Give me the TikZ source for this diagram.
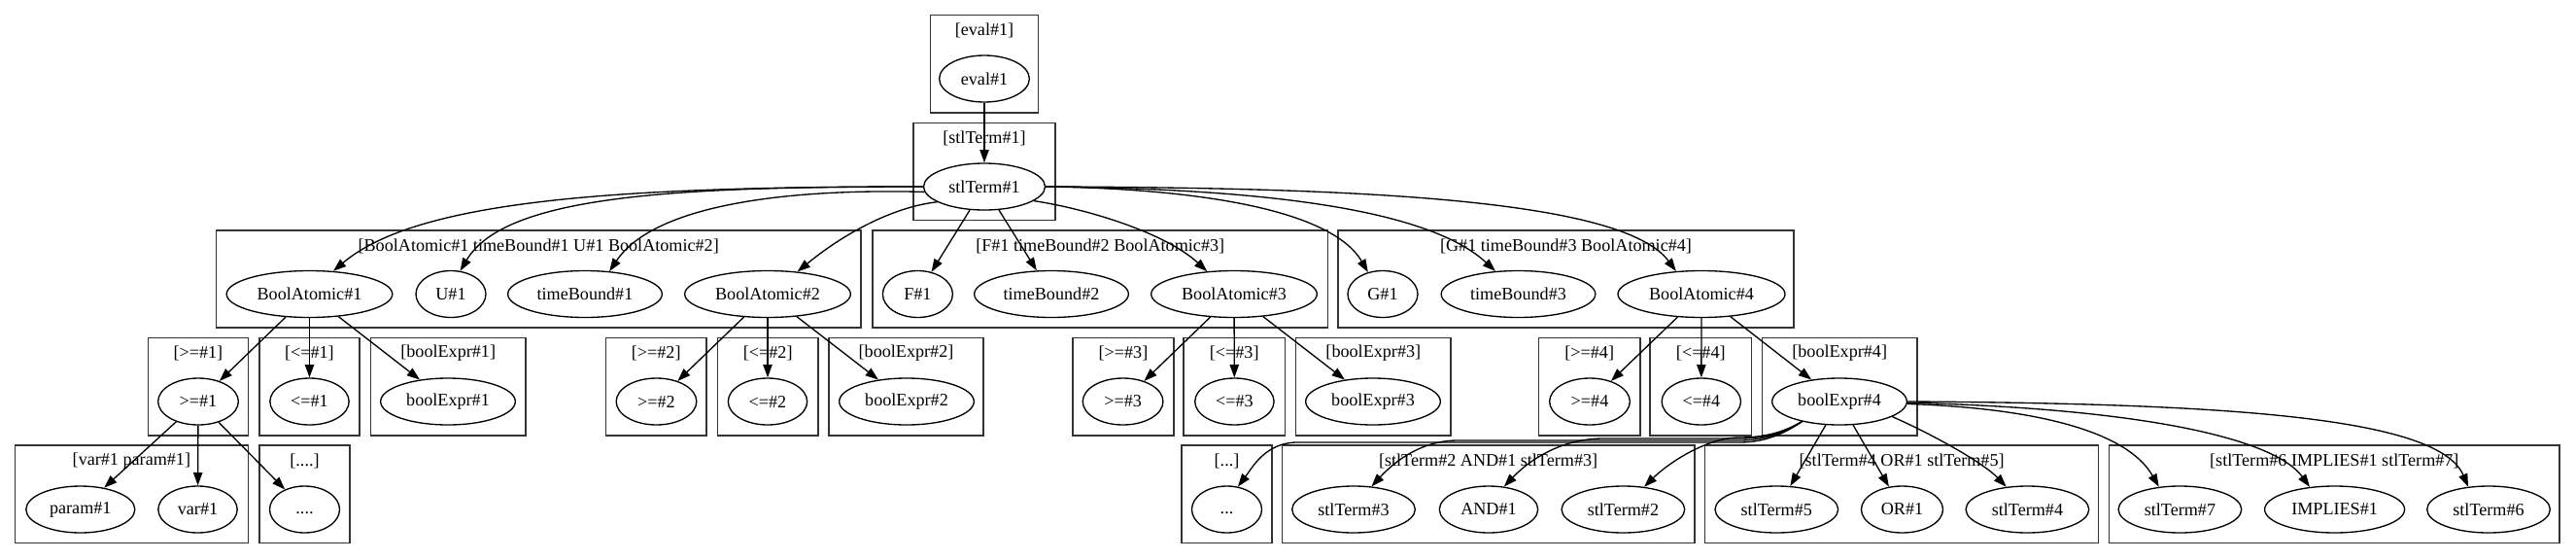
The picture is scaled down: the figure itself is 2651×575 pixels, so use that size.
\documentclass[tikz,border=0pt]{standalone}
\usepackage{fontspec}
\setmainfont{Liberation Serif}
\usetikzlibrary{arrows.meta,shapes.geometric}
\begin{document}
\begin{tikzpicture}[x=0.75pt,y=-0.75pt,
  nd/.style={draw, ellipse, line width=1pt, inner sep=0pt, minimum height=36pt, minimum width=#1, font=\fontsize{13.6}{16}\selectfont},
  box/.style={draw=black!80, line width=1.15pt},
  lbl/.style={inner sep=0pt, font=\fontsize{13.6}{16}\selectfont},
  conn/.style={line width=1pt, -{Triangle[length=10pt,width=7pt]}},
]
\useasboundingbox (0,0) rectangle (2651,575);

% ---------- cluster boxes ----------
\draw[box] (957.5,15.7) rectangle (1068.4,116);
\draw[box] (940,126.7) rectangle (1086,226.7);
\draw[box] (222.4,237) rectangle (886,337);
\draw[box] (897.8,237) rectangle (1366.6,337);
\draw[box] (1376.8,237) rectangle (1846.2,337);
% row 4
\draw[box] (152.3,347.7) rectangle (255.5,448);
\draw[box] (267,347.7) rectangle (369.9,448);
\draw[box] (381.6,347.7) rectangle (540.9,448);
\draw[box] (623.6,347.7) rectangle (726.8,448);
\draw[box] (738.7,347.7) rectangle (841.8,448);
\draw[box] (853,347.7) rectangle (1012,448);
\draw[box] (1104,347.7) rectangle (1208,448);
\draw[box] (1218,347.7) rectangle (1322.4,448);
\draw[box] (1333.7,347.7) rectangle (1492.9,448);
\draw[box] (1583.7,347.7) rectangle (1687.8,448);
\draw[box] (1698,347.7) rectangle (1802.6,448);
\draw[box] (1813.4,347.7) rectangle (1973,448);
% row 5
\draw[box] (15.4,458) rectangle (255.4,558.5);
\draw[box] (267,458) rectangle (360,558.5);
\draw[box] (1215.8,458) rectangle (1309.2,558.5);
\draw[box] (1319.4,458) rectangle (1743.9,558.5);
\draw[box] (1754.6,458) rectangle (2159.7,558.5);
\draw[box] (2170.6,458) rectangle (2634,558.5);

% ---------- cluster labels ----------
\node[lbl] (Leval) at (1013,31.7) {[eval\#1]};
\node[lbl] (Lstl) at (1013,142.7) {[stlTerm\#1]};
\node[lbl] (Lc1) at (554.2,253) {[BoolAtomic\#1 timeBound\#1 U\#1 BoolAtomic\#2]};
\node[lbl] (Lc2) at (1132.2,253) {[F\#1 timeBound\#2 BoolAtomic\#3]};
\node[lbl] (Lc3) at (1611.5,253) {[G\#1 timeBound\#3 BoolAtomic\#4]};
\node[lbl] (Lge1) at (203.9,363) {[>=\#1]};
\node[lbl] (Lle1) at (318.4,363) {[<=\#1]};
\node[lbl] (Lbe1) at (461.2,363) {[boolExpr\#1]};
\node[lbl] (Lge2) at (675.2,363) {[>=\#2]};
\node[lbl] (Lle2) at (790.2,363) {[<=\#2]};
\node[lbl] (Lbe2) at (932.5,363) {[boolExpr\#2]};
\node[lbl] (Lge3) at (1156,363) {[>=\#3]};
\node[lbl] (Lle3) at (1270.2,363) {[<=\#3]};
\node[lbl] (Lbe3) at (1413.3,363) {[boolExpr\#3]};
\node[lbl] (Lge4) at (1635.7,363) {[>=\#4]};
\node[lbl] (Lle4) at (1750.3,363) {[<=\#4]};
\node[lbl] (Lbe4) at (1893.2,363) {[boolExpr\#4]};
\node[lbl] (Lvp) at (135.4,474) {[var\#1 param\#1]};
\node[lbl] (LdA) at (313.5,474) {[....]};
\node[lbl] (LdB) at (1262.5,474) {[...]};
\node[lbl] (Land) at (1531.6,474) {[stlTerm\#2 AND\#1 stlTerm\#3]};
\node[lbl] (Lor) at (1957.1,474) {[stlTerm\#4 OR\#1 stlTerm\#5]};
\node[lbl] (Limp) at (2402.3,474) {[stlTerm\#6 IMPLIES\#1 stlTerm\#7]};

% ---------- nodes ----------
\node[nd=69.5pt] (eval1) at (1013,81) {eval\#1};
\node[nd=93.75pt] (stl1) at (1013,192) {stlTerm\#1};

\node[nd=128pt] (ba1) at (318.5,302.5) {BoolAtomic\#1};
\node[nd=54pt]  (u1)  at (464,302.5) {U\#1};
\node[nd=119pt] (tb1) at (602,302.5) {timeBound\#1};
\node[nd=128pt] (ba2) at (790,302.5) {BoolAtomic\#2};
\node[nd=54pt]  (f1)  at (944.4,302.5) {F\#1};
\node[nd=119pt] (tb2) at (1082,302.5) {timeBound\#2};
\node[nd=128pt] (ba3) at (1270,302.5) {BoolAtomic\#3};
\node[nd=54pt]  (g1)  at (1423,302.5) {G\#1};
\node[nd=119pt] (tb3) at (1562.5,302.5) {timeBound\#3};
\node[nd=129pt] (ba4) at (1751,302.5) {BoolAtomic\#4};

\node[nd=62pt]  (ge1) at (204,413) {>=\#1};
\node[nd=61pt]  (le1) at (318.5,413) {<=\#1};
\node[nd=104pt] (be1) at (461,413) {boolExpr\#1};
\node[nd=62pt]  (ge2) at (675.5,413) {>=\#2};
\node[nd=61pt]  (le2) at (790,413) {<=\#2};
\node[nd=104pt] (be2) at (933,413) {boolExpr\#2};
\node[nd=62pt]  (ge3) at (1155.6,413) {>=\#3};
\node[nd=61pt]  (le3) at (1270.4,413) {<=\#3};
\node[nd=104pt] (be3) at (1413,413) {boolExpr\#3};
\node[nd=62pt]  (ge4) at (1636,413) {>=\#4};
\node[nd=61pt]  (le4) at (1750.8,413) {<=\#4};
\node[nd=104pt] (be4) at (1893,413) {boolExpr\#4};

\node[nd=84pt]  (param1) at (82.8,524) {param\#1};
\node[nd=61pt]  (var1)   at (203.5,524) {var\#1};
\node[nd=54pt]  (dotsA)  at (313.5,524) {\vphantom{Ag}....};
\node[nd=54pt]  (dotsB)  at (1262.5,524) {\vphantom{Ag}...};
\node[nd=95pt]  (st3)    at (1393,524) {stlTerm\#3};
\node[nd=76pt]  (and1)   at (1532,524) {AND\#1};
\node[nd=95pt]  (st2)    at (1670.4,524) {stlTerm\#2};
\node[nd=95pt]  (st5)    at (1828.3,524) {stlTerm\#5};
\node[nd=63pt]  (or1)    at (1957.5,524) {OR\#1};
\node[nd=95pt]  (st4)    at (2086.4,524) {stlTerm\#4};
\node[nd=95pt]  (st7)    at (2243.4,524) {stlTerm\#7};
\node[nd=108pt] (imp1)   at (2402.6,524) {IMPLIES\#1};
\node[nd=95pt]  (st6)    at (2561,524) {stlTerm\#6};

% ---------- edges ----------
\draw[conn] (eval1) -- (stl1);

\draw[conn] (stl1.180) .. controls (640,192) and (430,205) .. (ba1.44);
\draw[conn] (stl1.180) .. controls (700,192) and (520,200) .. (u1.68);
\draw[conn] (stl1.185) .. controls (820,194) and (675,208) .. (tb1.43);
\draw[conn] (stl1.198) .. controls (925,212) and (875,235) .. (ba2.37);
\draw[conn] (stl1) -- (f1);
\draw[conn] (stl1) -- (tb2);
\draw[conn] (stl1.-16) .. controls (1120,215) and (1200,240) .. (ba3.140);
\draw[conn] (stl1.0) .. controls (1230,194) and (1370,215) .. (g1.124);
\draw[conn] (stl1.0) .. controls (1300,194) and (1470,215) .. (tb3.135);
\draw[conn] (stl1.0) .. controls (1400,193) and (1670,205) .. (ba4.138);

\draw[conn] (ba1) -- (ge1);
\draw[conn] (ba1) -- (le1);
\draw[conn] (ba1) -- (be1);
\draw[conn] (ba2) -- (ge2);
\draw[conn] (ba2) -- (le2);
\draw[conn] (ba2) -- (be2);
\draw[conn] (ba3) -- (ge3);
\draw[conn] (ba3) -- (le3);
\draw[conn] (ba3) -- (be3);
\draw[conn] (ba4) -- (ge4);
\draw[conn] (ba4) -- (le4);
\draw[conn] (ba4) -- (be4);

\draw[conn] (ge1) -- (param1);
\draw[conn] (ge1) -- (var1);
\draw[conn] (ge1) -- (dotsA);

\draw[conn] (be4.208) .. controls (1835,447) and (1815,455) .. (1790,455) -- (1335,455) .. controls (1302,455) and (1288,482) .. (dotsB.64);
\draw[conn] (be4.208) .. controls (1835,446) and (1815,453) .. (1790,453) -- (1500,453) .. controls (1460,453) and (1432,478) .. (st3.52);
\draw[conn] (be4.208) .. controls (1835,446) and (1815,451) .. (1790,451) -- (1650,451) .. controls (1605,451) and (1572,475) .. (and1.56);
\draw[conn] (be4.208) .. controls (1835,445) and (1815,450) .. (1790,450) .. controls (1755,450) and (1715,478) .. (st2.47);
\draw[conn] (be4) -- (st5);
\draw[conn] (be4) -- (or1);
\draw[conn] (be4.-16) .. controls (1985,445) and (2040,475) .. (st4.133);
\draw[conn] (be4.-2) .. controls (2100,420) and (2190,445) .. (st7.133);
\draw[conn] (be4.-1) .. controls (2200,420) and (2340,450) .. (imp1.138);
\draw[conn] (be4.0) .. controls (2300,415) and (2510,430) .. (st6.132);
\end{tikzpicture}
\end{document}
